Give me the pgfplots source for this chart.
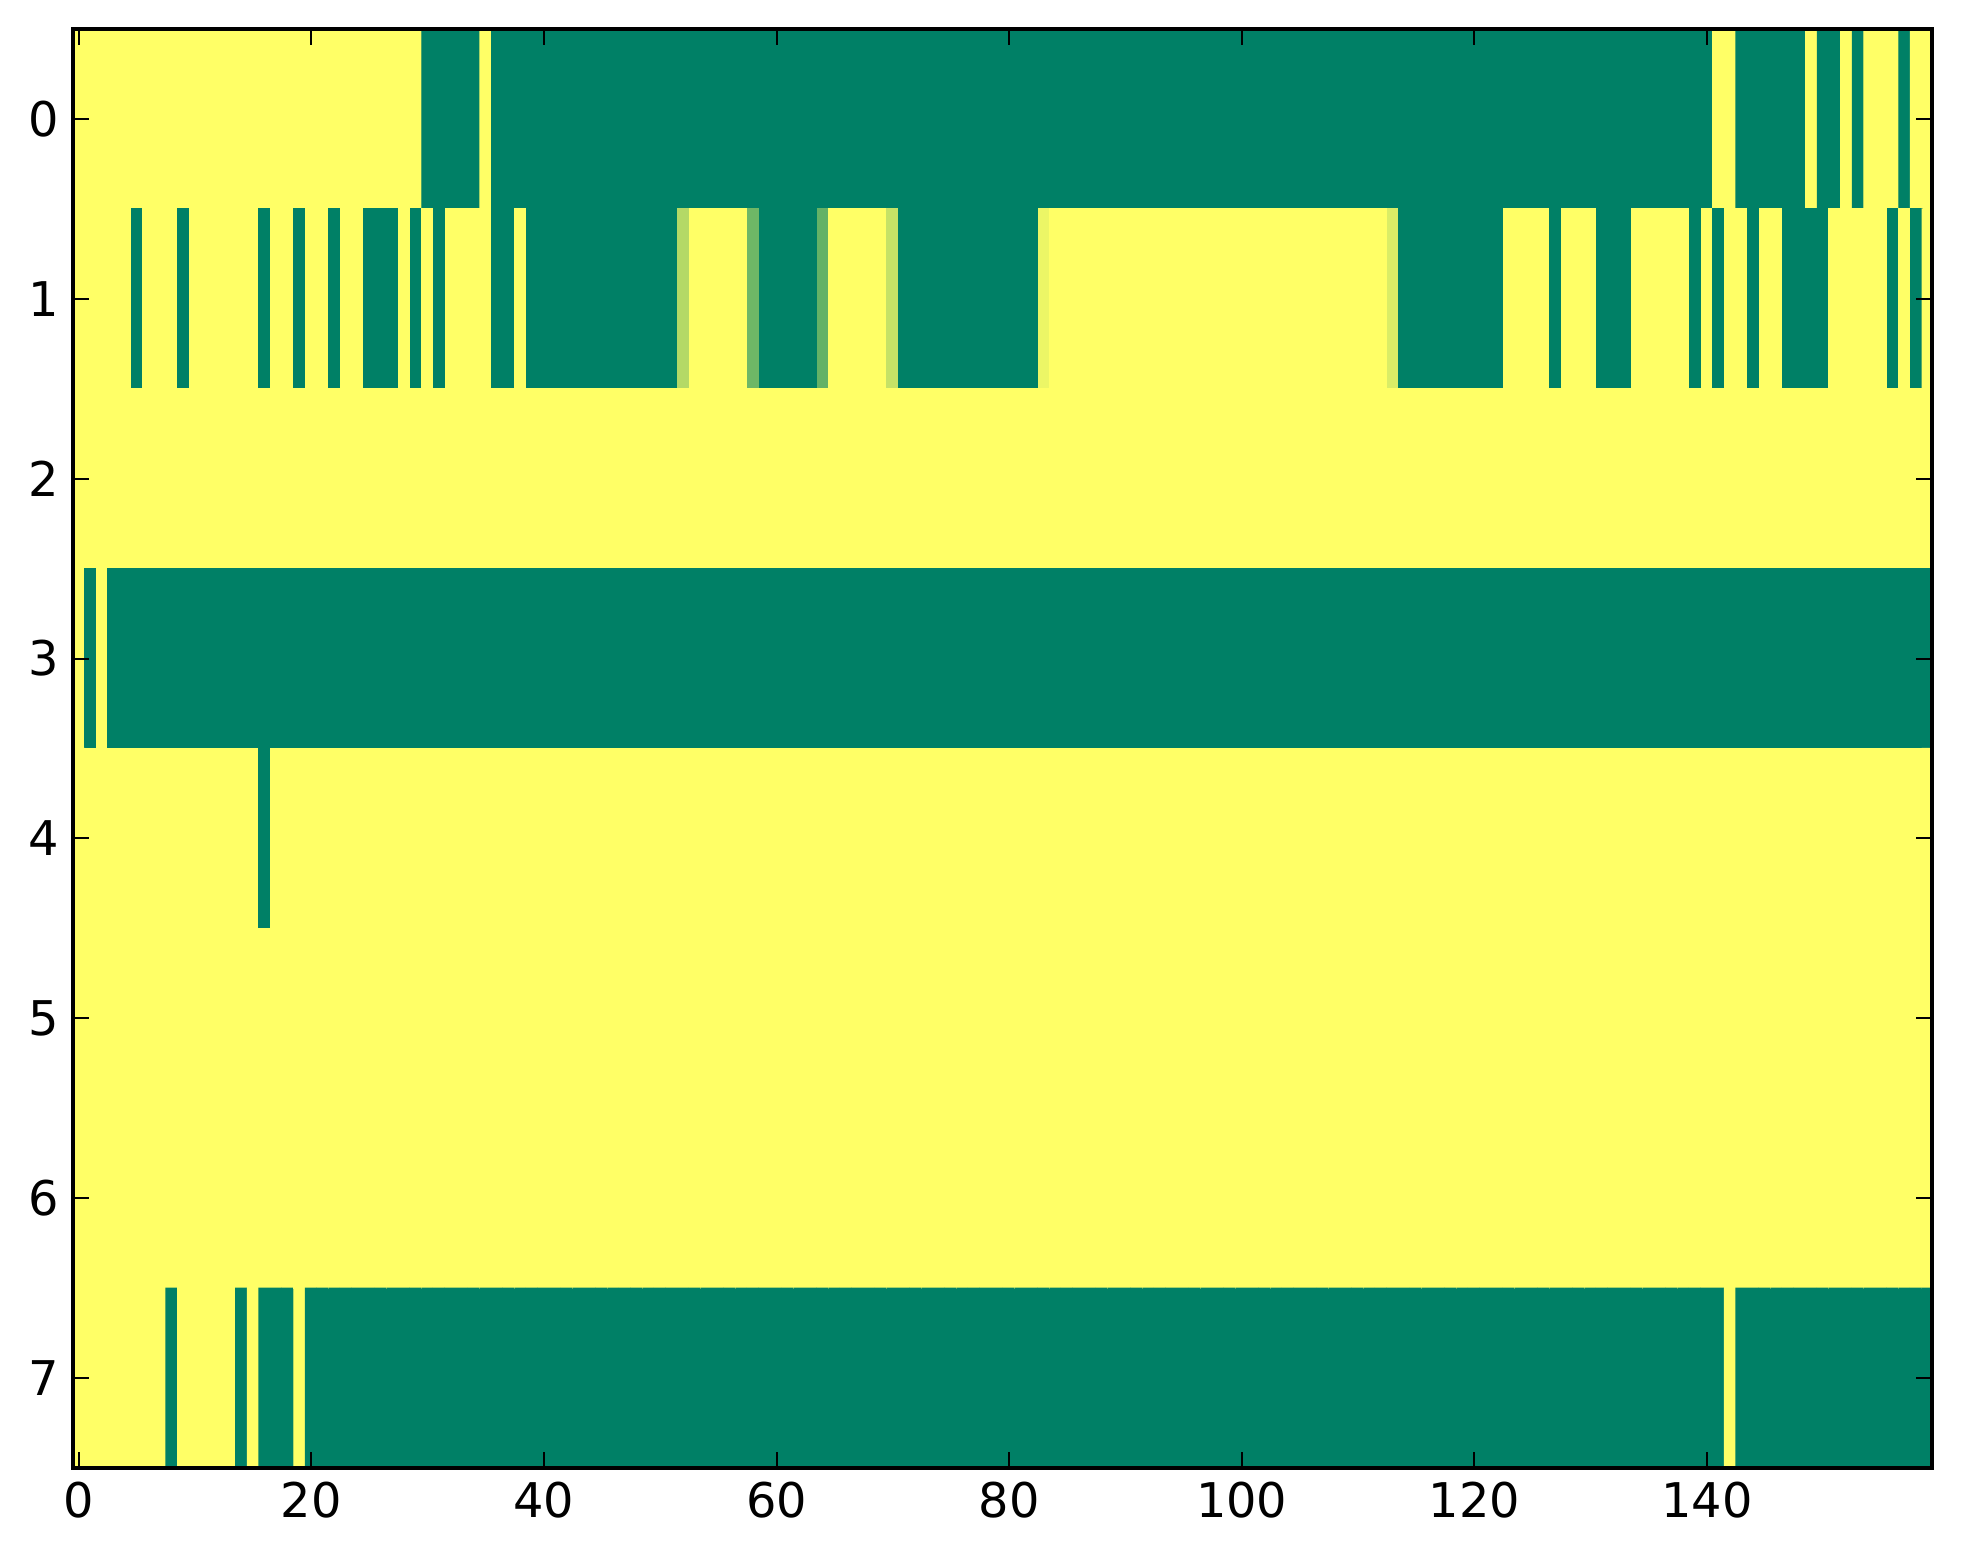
\documentclass[border=0pt]{standalone}
\usepackage{fontspec}
\setmainfont{DejaVu Sans}
\usepackage{pgfplots}
\pgfplotsset{compat=1.18}

% 8 rows x 160 columns, value 0 = green, 1 = yellow
\pgfplotstableread[row sep=\\]{
x y c\\
0 0 1\\ 1 0 1\\ 2 0 1\\ 3 0 1\\ 4 0 1\\ 5 0 1\\ 6 0 1\\ 7 0 1\\ 8 0 1\\ 9 0 1\\
10 0 1\\ 11 0 1\\ 12 0 1\\ 13 0 1\\ 14 0 1\\ 15 0 1\\ 16 0 1\\ 17 0 1\\ 18 0 1\\ 19 0 1\\
20 0 1\\ 21 0 1\\ 22 0 1\\ 23 0 1\\ 24 0 1\\ 25 0 1\\ 26 0 1\\ 27 0 1\\ 28 0 1\\ 29 0 1\\
30 0 0\\ 31 0 0\\ 32 0 0\\ 33 0 0\\ 34 0 0\\ 35 0 1\\ 36 0 0\\ 37 0 0\\ 38 0 0\\ 39 0 0\\
40 0 0\\ 41 0 0\\ 42 0 0\\ 43 0 0\\ 44 0 0\\ 45 0 0\\ 46 0 0\\ 47 0 0\\ 48 0 0\\ 49 0 0\\
50 0 0\\ 51 0 0\\ 52 0 0\\ 53 0 0\\ 54 0 0\\ 55 0 0\\ 56 0 0\\ 57 0 0\\ 58 0 0\\ 59 0 0\\
60 0 0\\ 61 0 0\\ 62 0 0\\ 63 0 0\\ 64 0 0\\ 65 0 0\\ 66 0 0\\ 67 0 0\\ 68 0 0\\ 69 0 0\\
70 0 0\\ 71 0 0\\ 72 0 0\\ 73 0 0\\ 74 0 0\\ 75 0 0\\ 76 0 0\\ 77 0 0\\ 78 0 0\\ 79 0 0\\
80 0 0\\ 81 0 0\\ 82 0 0\\ 83 0 0\\ 84 0 0\\ 85 0 0\\ 86 0 0\\ 87 0 0\\ 88 0 0\\ 89 0 0\\
90 0 0\\ 91 0 0\\ 92 0 0\\ 93 0 0\\ 94 0 0\\ 95 0 0\\ 96 0 0\\ 97 0 0\\ 98 0 0\\ 99 0 0\\
100 0 0\\ 101 0 0\\ 102 0 0\\ 103 0 0\\ 104 0 0\\ 105 0 0\\ 106 0 0\\ 107 0 0\\ 108 0 0\\ 109 0 0\\
110 0 0\\ 111 0 0\\ 112 0 0\\ 113 0 0\\ 114 0 0\\ 115 0 0\\ 116 0 0\\ 117 0 0\\ 118 0 0\\ 119 0 0\\
120 0 0\\ 121 0 0\\ 122 0 0\\ 123 0 0\\ 124 0 0\\ 125 0 0\\ 126 0 0\\ 127 0 0\\ 128 0 0\\ 129 0 0\\
130 0 0\\ 131 0 0\\ 132 0 0\\ 133 0 0\\ 134 0 0\\ 135 0 0\\ 136 0 0\\ 137 0 0\\ 138 0 0\\ 139 0 0\\
140 0 0\\ 141 0 1\\ 142 0 1\\ 143 0 0\\ 144 0 0\\ 145 0 0\\ 146 0 0\\ 147 0 0\\ 148 0 0\\ 149 0 1\\
150 0 0\\ 151 0 0\\ 152 0 1\\ 153 0 0\\ 154 0 1\\ 155 0 1\\ 156 0 1\\ 157 0 0\\ 158 0 1\\ 159 0 1\\
0 1 1\\ 1 1 1\\ 2 1 1\\ 3 1 1\\ 4 1 1\\ 5 1 0\\ 6 1 1\\ 7 1 1\\ 8 1 1\\ 9 1 0\\
10 1 1\\ 11 1 1\\ 12 1 1\\ 13 1 1\\ 14 1 1\\ 15 1 1\\ 16 1 0\\ 17 1 1\\ 18 1 1\\ 19 1 0\\
20 1 1\\ 21 1 1\\ 22 1 0\\ 23 1 1\\ 24 1 1\\ 25 1 0\\ 26 1 0\\ 27 1 0\\ 28 1 1\\ 29 1 0\\
30 1 1\\ 31 1 0\\ 32 1 1\\ 33 1 1\\ 34 1 1\\ 35 1 1\\ 36 1 0\\ 37 1 0\\ 38 1 1\\ 39 1 0\\
40 1 0\\ 41 1 0\\ 42 1 0\\ 43 1 0\\ 44 1 0\\ 45 1 0\\ 46 1 0\\ 47 1 0\\ 48 1 0\\ 49 1 0\\
50 1 0\\ 51 1 0\\ 52 1 0.70\\ 53 1 1\\ 54 1 1\\ 55 1 1\\ 56 1 1\\ 57 1 1\\ 58 1 0.43\\ 59 1 0\\
60 1 0\\ 61 1 0\\ 62 1 0\\ 63 1 0\\ 64 1 0.39\\ 65 1 1\\ 66 1 1\\ 67 1 1\\ 68 1 1\\ 69 1 1\\
70 1 0.77\\ 71 1 0\\ 72 1 0\\ 73 1 0\\ 74 1 0\\ 75 1 0\\ 76 1 0\\ 77 1 0\\ 78 1 0\\ 79 1 0\\
80 1 0\\ 81 1 0\\ 82 1 0\\ 83 1 0.92\\ 84 1 1\\ 85 1 1\\ 86 1 1\\ 87 1 1\\ 88 1 1\\ 89 1 1\\
90 1 1\\ 91 1 1\\ 92 1 1\\ 93 1 1\\ 94 1 1\\ 95 1 1\\ 96 1 1\\ 97 1 1\\ 98 1 1\\ 99 1 1\\
100 1 1\\ 101 1 1\\ 102 1 1\\ 103 1 1\\ 104 1 1\\ 105 1 1\\ 106 1 1\\ 107 1 1\\ 108 1 1\\ 109 1 1\\
110 1 1\\ 111 1 1\\ 112 1 1\\ 113 1 0.85\\ 114 1 0\\ 115 1 0\\ 116 1 0\\ 117 1 0\\ 118 1 0\\ 119 1 0\\
120 1 0\\ 121 1 0\\ 122 1 0\\ 123 1 1\\ 124 1 1\\ 125 1 1\\ 126 1 1\\ 127 1 0\\ 128 1 1\\ 129 1 1\\
130 1 1\\ 131 1 0\\ 132 1 0\\ 133 1 0\\ 134 1 1\\ 135 1 1\\ 136 1 1\\ 137 1 1\\ 138 1 1\\ 139 1 0\\
140 1 1\\ 141 1 0\\ 142 1 1\\ 143 1 1\\ 144 1 0\\ 145 1 1\\ 146 1 1\\ 147 1 0\\ 148 1 0\\ 149 1 0\\
150 1 0\\ 151 1 1\\ 152 1 1\\ 153 1 1\\ 154 1 1\\ 155 1 1\\ 156 1 0\\ 157 1 1\\ 158 1 0\\ 159 1 1\\
0 2 1\\ 1 2 1\\ 2 2 1\\ 3 2 1\\ 4 2 1\\ 5 2 1\\ 6 2 1\\ 7 2 1\\ 8 2 1\\ 9 2 1\\
10 2 1\\ 11 2 1\\ 12 2 1\\ 13 2 1\\ 14 2 1\\ 15 2 1\\ 16 2 1\\ 17 2 1\\ 18 2 1\\ 19 2 1\\
20 2 1\\ 21 2 1\\ 22 2 1\\ 23 2 1\\ 24 2 1\\ 25 2 1\\ 26 2 1\\ 27 2 1\\ 28 2 1\\ 29 2 1\\
30 2 1\\ 31 2 1\\ 32 2 1\\ 33 2 1\\ 34 2 1\\ 35 2 1\\ 36 2 1\\ 37 2 1\\ 38 2 1\\ 39 2 1\\
40 2 1\\ 41 2 1\\ 42 2 1\\ 43 2 1\\ 44 2 1\\ 45 2 1\\ 46 2 1\\ 47 2 1\\ 48 2 1\\ 49 2 1\\
50 2 1\\ 51 2 1\\ 52 2 1\\ 53 2 1\\ 54 2 1\\ 55 2 1\\ 56 2 1\\ 57 2 1\\ 58 2 1\\ 59 2 1\\
60 2 1\\ 61 2 1\\ 62 2 1\\ 63 2 1\\ 64 2 1\\ 65 2 1\\ 66 2 1\\ 67 2 1\\ 68 2 1\\ 69 2 1\\
70 2 1\\ 71 2 1\\ 72 2 1\\ 73 2 1\\ 74 2 1\\ 75 2 1\\ 76 2 1\\ 77 2 1\\ 78 2 1\\ 79 2 1\\
80 2 1\\ 81 2 1\\ 82 2 1\\ 83 2 1\\ 84 2 1\\ 85 2 1\\ 86 2 1\\ 87 2 1\\ 88 2 1\\ 89 2 1\\
90 2 1\\ 91 2 1\\ 92 2 1\\ 93 2 1\\ 94 2 1\\ 95 2 1\\ 96 2 1\\ 97 2 1\\ 98 2 1\\ 99 2 1\\
100 2 1\\ 101 2 1\\ 102 2 1\\ 103 2 1\\ 104 2 1\\ 105 2 1\\ 106 2 1\\ 107 2 1\\ 108 2 1\\ 109 2 1\\
110 2 1\\ 111 2 1\\ 112 2 1\\ 113 2 1\\ 114 2 1\\ 115 2 1\\ 116 2 1\\ 117 2 1\\ 118 2 1\\ 119 2 1\\
120 2 1\\ 121 2 1\\ 122 2 1\\ 123 2 1\\ 124 2 1\\ 125 2 1\\ 126 2 1\\ 127 2 1\\ 128 2 1\\ 129 2 1\\
130 2 1\\ 131 2 1\\ 132 2 1\\ 133 2 1\\ 134 2 1\\ 135 2 1\\ 136 2 1\\ 137 2 1\\ 138 2 1\\ 139 2 1\\
140 2 1\\ 141 2 1\\ 142 2 1\\ 143 2 1\\ 144 2 1\\ 145 2 1\\ 146 2 1\\ 147 2 1\\ 148 2 1\\ 149 2 1\\
150 2 1\\ 151 2 1\\ 152 2 1\\ 153 2 1\\ 154 2 1\\ 155 2 1\\ 156 2 1\\ 157 2 1\\ 158 2 1\\ 159 2 1\\
0 3 1\\ 1 3 0\\ 2 3 1\\ 3 3 0\\ 4 3 0\\ 5 3 0\\ 6 3 0\\ 7 3 0\\ 8 3 0\\ 9 3 0\\
10 3 0\\ 11 3 0\\ 12 3 0\\ 13 3 0\\ 14 3 0\\ 15 3 0\\ 16 3 0\\ 17 3 0\\ 18 3 0\\ 19 3 0\\
20 3 0\\ 21 3 0\\ 22 3 0\\ 23 3 0\\ 24 3 0\\ 25 3 0\\ 26 3 0\\ 27 3 0\\ 28 3 0\\ 29 3 0\\
30 3 0\\ 31 3 0\\ 32 3 0\\ 33 3 0\\ 34 3 0\\ 35 3 0\\ 36 3 0\\ 37 3 0\\ 38 3 0\\ 39 3 0\\
40 3 0\\ 41 3 0\\ 42 3 0\\ 43 3 0\\ 44 3 0\\ 45 3 0\\ 46 3 0\\ 47 3 0\\ 48 3 0\\ 49 3 0\\
50 3 0\\ 51 3 0\\ 52 3 0\\ 53 3 0\\ 54 3 0\\ 55 3 0\\ 56 3 0\\ 57 3 0\\ 58 3 0\\ 59 3 0\\
60 3 0\\ 61 3 0\\ 62 3 0\\ 63 3 0\\ 64 3 0\\ 65 3 0\\ 66 3 0\\ 67 3 0\\ 68 3 0\\ 69 3 0\\
70 3 0\\ 71 3 0\\ 72 3 0\\ 73 3 0\\ 74 3 0\\ 75 3 0\\ 76 3 0\\ 77 3 0\\ 78 3 0\\ 79 3 0\\
80 3 0\\ 81 3 0\\ 82 3 0\\ 83 3 0\\ 84 3 0\\ 85 3 0\\ 86 3 0\\ 87 3 0\\ 88 3 0\\ 89 3 0\\
90 3 0\\ 91 3 0\\ 92 3 0\\ 93 3 0\\ 94 3 0\\ 95 3 0\\ 96 3 0\\ 97 3 0\\ 98 3 0\\ 99 3 0\\
100 3 0\\ 101 3 0\\ 102 3 0\\ 103 3 0\\ 104 3 0\\ 105 3 0\\ 106 3 0\\ 107 3 0\\ 108 3 0\\ 109 3 0\\
110 3 0\\ 111 3 0\\ 112 3 0\\ 113 3 0\\ 114 3 0\\ 115 3 0\\ 116 3 0\\ 117 3 0\\ 118 3 0\\ 119 3 0\\
120 3 0\\ 121 3 0\\ 122 3 0\\ 123 3 0\\ 124 3 0\\ 125 3 0\\ 126 3 0\\ 127 3 0\\ 128 3 0\\ 129 3 0\\
130 3 0\\ 131 3 0\\ 132 3 0\\ 133 3 0\\ 134 3 0\\ 135 3 0\\ 136 3 0\\ 137 3 0\\ 138 3 0\\ 139 3 0\\
140 3 0\\ 141 3 0\\ 142 3 0\\ 143 3 0\\ 144 3 0\\ 145 3 0\\ 146 3 0\\ 147 3 0\\ 148 3 0\\ 149 3 0\\
150 3 0\\ 151 3 0\\ 152 3 0\\ 153 3 0\\ 154 3 0\\ 155 3 0\\ 156 3 0\\ 157 3 0\\ 158 3 0\\ 159 3 0\\
0 4 1\\ 1 4 1\\ 2 4 1\\ 3 4 1\\ 4 4 1\\ 5 4 1\\ 6 4 1\\ 7 4 1\\ 8 4 1\\ 9 4 1\\
10 4 1\\ 11 4 1\\ 12 4 1\\ 13 4 1\\ 14 4 1\\ 15 4 1\\ 16 4 0\\ 17 4 1\\ 18 4 1\\ 19 4 1\\
20 4 1\\ 21 4 1\\ 22 4 1\\ 23 4 1\\ 24 4 1\\ 25 4 1\\ 26 4 1\\ 27 4 1\\ 28 4 1\\ 29 4 1\\
30 4 1\\ 31 4 1\\ 32 4 1\\ 33 4 1\\ 34 4 1\\ 35 4 1\\ 36 4 1\\ 37 4 1\\ 38 4 1\\ 39 4 1\\
40 4 1\\ 41 4 1\\ 42 4 1\\ 43 4 1\\ 44 4 1\\ 45 4 1\\ 46 4 1\\ 47 4 1\\ 48 4 1\\ 49 4 1\\
50 4 1\\ 51 4 1\\ 52 4 1\\ 53 4 1\\ 54 4 1\\ 55 4 1\\ 56 4 1\\ 57 4 1\\ 58 4 1\\ 59 4 1\\
60 4 1\\ 61 4 1\\ 62 4 1\\ 63 4 1\\ 64 4 1\\ 65 4 1\\ 66 4 1\\ 67 4 1\\ 68 4 1\\ 69 4 1\\
70 4 1\\ 71 4 1\\ 72 4 1\\ 73 4 1\\ 74 4 1\\ 75 4 1\\ 76 4 1\\ 77 4 1\\ 78 4 1\\ 79 4 1\\
80 4 1\\ 81 4 1\\ 82 4 1\\ 83 4 1\\ 84 4 1\\ 85 4 1\\ 86 4 1\\ 87 4 1\\ 88 4 1\\ 89 4 1\\
90 4 1\\ 91 4 1\\ 92 4 1\\ 93 4 1\\ 94 4 1\\ 95 4 1\\ 96 4 1\\ 97 4 1\\ 98 4 1\\ 99 4 1\\
100 4 1\\ 101 4 1\\ 102 4 1\\ 103 4 1\\ 104 4 1\\ 105 4 1\\ 106 4 1\\ 107 4 1\\ 108 4 1\\ 109 4 1\\
110 4 1\\ 111 4 1\\ 112 4 1\\ 113 4 1\\ 114 4 1\\ 115 4 1\\ 116 4 1\\ 117 4 1\\ 118 4 1\\ 119 4 1\\
120 4 1\\ 121 4 1\\ 122 4 1\\ 123 4 1\\ 124 4 1\\ 125 4 1\\ 126 4 1\\ 127 4 1\\ 128 4 1\\ 129 4 1\\
130 4 1\\ 131 4 1\\ 132 4 1\\ 133 4 1\\ 134 4 1\\ 135 4 1\\ 136 4 1\\ 137 4 1\\ 138 4 1\\ 139 4 1\\
140 4 1\\ 141 4 1\\ 142 4 1\\ 143 4 1\\ 144 4 1\\ 145 4 1\\ 146 4 1\\ 147 4 1\\ 148 4 1\\ 149 4 1\\
150 4 1\\ 151 4 1\\ 152 4 1\\ 153 4 1\\ 154 4 1\\ 155 4 1\\ 156 4 1\\ 157 4 1\\ 158 4 1\\ 159 4 1\\
0 5 1\\ 1 5 1\\ 2 5 1\\ 3 5 1\\ 4 5 1\\ 5 5 1\\ 6 5 1\\ 7 5 1\\ 8 5 1\\ 9 5 1\\
10 5 1\\ 11 5 1\\ 12 5 1\\ 13 5 1\\ 14 5 1\\ 15 5 1\\ 16 5 1\\ 17 5 1\\ 18 5 1\\ 19 5 1\\
20 5 1\\ 21 5 1\\ 22 5 1\\ 23 5 1\\ 24 5 1\\ 25 5 1\\ 26 5 1\\ 27 5 1\\ 28 5 1\\ 29 5 1\\
30 5 1\\ 31 5 1\\ 32 5 1\\ 33 5 1\\ 34 5 1\\ 35 5 1\\ 36 5 1\\ 37 5 1\\ 38 5 1\\ 39 5 1\\
40 5 1\\ 41 5 1\\ 42 5 1\\ 43 5 1\\ 44 5 1\\ 45 5 1\\ 46 5 1\\ 47 5 1\\ 48 5 1\\ 49 5 1\\
50 5 1\\ 51 5 1\\ 52 5 1\\ 53 5 1\\ 54 5 1\\ 55 5 1\\ 56 5 1\\ 57 5 1\\ 58 5 1\\ 59 5 1\\
60 5 1\\ 61 5 1\\ 62 5 1\\ 63 5 1\\ 64 5 1\\ 65 5 1\\ 66 5 1\\ 67 5 1\\ 68 5 1\\ 69 5 1\\
70 5 1\\ 71 5 1\\ 72 5 1\\ 73 5 1\\ 74 5 1\\ 75 5 1\\ 76 5 1\\ 77 5 1\\ 78 5 1\\ 79 5 1\\
80 5 1\\ 81 5 1\\ 82 5 1\\ 83 5 1\\ 84 5 1\\ 85 5 1\\ 86 5 1\\ 87 5 1\\ 88 5 1\\ 89 5 1\\
90 5 1\\ 91 5 1\\ 92 5 1\\ 93 5 1\\ 94 5 1\\ 95 5 1\\ 96 5 1\\ 97 5 1\\ 98 5 1\\ 99 5 1\\
100 5 1\\ 101 5 1\\ 102 5 1\\ 103 5 1\\ 104 5 1\\ 105 5 1\\ 106 5 1\\ 107 5 1\\ 108 5 1\\ 109 5 1\\
110 5 1\\ 111 5 1\\ 112 5 1\\ 113 5 1\\ 114 5 1\\ 115 5 1\\ 116 5 1\\ 117 5 1\\ 118 5 1\\ 119 5 1\\
120 5 1\\ 121 5 1\\ 122 5 1\\ 123 5 1\\ 124 5 1\\ 125 5 1\\ 126 5 1\\ 127 5 1\\ 128 5 1\\ 129 5 1\\
130 5 1\\ 131 5 1\\ 132 5 1\\ 133 5 1\\ 134 5 1\\ 135 5 1\\ 136 5 1\\ 137 5 1\\ 138 5 1\\ 139 5 1\\
140 5 1\\ 141 5 1\\ 142 5 1\\ 143 5 1\\ 144 5 1\\ 145 5 1\\ 146 5 1\\ 147 5 1\\ 148 5 1\\ 149 5 1\\
150 5 1\\ 151 5 1\\ 152 5 1\\ 153 5 1\\ 154 5 1\\ 155 5 1\\ 156 5 1\\ 157 5 1\\ 158 5 1\\ 159 5 1\\
0 6 1\\ 1 6 1\\ 2 6 1\\ 3 6 1\\ 4 6 1\\ 5 6 1\\ 6 6 1\\ 7 6 1\\ 8 6 1\\ 9 6 1\\
10 6 1\\ 11 6 1\\ 12 6 1\\ 13 6 1\\ 14 6 1\\ 15 6 1\\ 16 6 1\\ 17 6 1\\ 18 6 1\\ 19 6 1\\
20 6 1\\ 21 6 1\\ 22 6 1\\ 23 6 1\\ 24 6 1\\ 25 6 1\\ 26 6 1\\ 27 6 1\\ 28 6 1\\ 29 6 1\\
30 6 1\\ 31 6 1\\ 32 6 1\\ 33 6 1\\ 34 6 1\\ 35 6 1\\ 36 6 1\\ 37 6 1\\ 38 6 1\\ 39 6 1\\
40 6 1\\ 41 6 1\\ 42 6 1\\ 43 6 1\\ 44 6 1\\ 45 6 1\\ 46 6 1\\ 47 6 1\\ 48 6 1\\ 49 6 1\\
50 6 1\\ 51 6 1\\ 52 6 1\\ 53 6 1\\ 54 6 1\\ 55 6 1\\ 56 6 1\\ 57 6 1\\ 58 6 1\\ 59 6 1\\
60 6 1\\ 61 6 1\\ 62 6 1\\ 63 6 1\\ 64 6 1\\ 65 6 1\\ 66 6 1\\ 67 6 1\\ 68 6 1\\ 69 6 1\\
70 6 1\\ 71 6 1\\ 72 6 1\\ 73 6 1\\ 74 6 1\\ 75 6 1\\ 76 6 1\\ 77 6 1\\ 78 6 1\\ 79 6 1\\
80 6 1\\ 81 6 1\\ 82 6 1\\ 83 6 1\\ 84 6 1\\ 85 6 1\\ 86 6 1\\ 87 6 1\\ 88 6 1\\ 89 6 1\\
90 6 1\\ 91 6 1\\ 92 6 1\\ 93 6 1\\ 94 6 1\\ 95 6 1\\ 96 6 1\\ 97 6 1\\ 98 6 1\\ 99 6 1\\
100 6 1\\ 101 6 1\\ 102 6 1\\ 103 6 1\\ 104 6 1\\ 105 6 1\\ 106 6 1\\ 107 6 1\\ 108 6 1\\ 109 6 1\\
110 6 1\\ 111 6 1\\ 112 6 1\\ 113 6 1\\ 114 6 1\\ 115 6 1\\ 116 6 1\\ 117 6 1\\ 118 6 1\\ 119 6 1\\
120 6 1\\ 121 6 1\\ 122 6 1\\ 123 6 1\\ 124 6 1\\ 125 6 1\\ 126 6 1\\ 127 6 1\\ 128 6 1\\ 129 6 1\\
130 6 1\\ 131 6 1\\ 132 6 1\\ 133 6 1\\ 134 6 1\\ 135 6 1\\ 136 6 1\\ 137 6 1\\ 138 6 1\\ 139 6 1\\
140 6 1\\ 141 6 1\\ 142 6 1\\ 143 6 1\\ 144 6 1\\ 145 6 1\\ 146 6 1\\ 147 6 1\\ 148 6 1\\ 149 6 1\\
150 6 1\\ 151 6 1\\ 152 6 1\\ 153 6 1\\ 154 6 1\\ 155 6 1\\ 156 6 1\\ 157 6 1\\ 158 6 1\\ 159 6 1\\
0 7 1\\ 1 7 1\\ 2 7 1\\ 3 7 1\\ 4 7 1\\ 5 7 1\\ 6 7 1\\ 7 7 1\\ 8 7 0\\ 9 7 1\\
10 7 1\\ 11 7 1\\ 12 7 1\\ 13 7 1\\ 14 7 0\\ 15 7 1\\ 16 7 0\\ 17 7 0\\ 18 7 0\\ 19 7 1\\
20 7 0\\ 21 7 0\\ 22 7 0\\ 23 7 0\\ 24 7 0\\ 25 7 0\\ 26 7 0\\ 27 7 0\\ 28 7 0\\ 29 7 0\\
30 7 0\\ 31 7 0\\ 32 7 0\\ 33 7 0\\ 34 7 0\\ 35 7 0\\ 36 7 0\\ 37 7 0\\ 38 7 0\\ 39 7 0\\
40 7 0\\ 41 7 0\\ 42 7 0\\ 43 7 0\\ 44 7 0\\ 45 7 0\\ 46 7 0\\ 47 7 0\\ 48 7 0\\ 49 7 0\\
50 7 0\\ 51 7 0\\ 52 7 0\\ 53 7 0\\ 54 7 0\\ 55 7 0\\ 56 7 0\\ 57 7 0\\ 58 7 0\\ 59 7 0\\
60 7 0\\ 61 7 0\\ 62 7 0\\ 63 7 0\\ 64 7 0\\ 65 7 0\\ 66 7 0\\ 67 7 0\\ 68 7 0\\ 69 7 0\\
70 7 0\\ 71 7 0\\ 72 7 0\\ 73 7 0\\ 74 7 0\\ 75 7 0\\ 76 7 0\\ 77 7 0\\ 78 7 0\\ 79 7 0\\
80 7 0\\ 81 7 0\\ 82 7 0\\ 83 7 0\\ 84 7 0\\ 85 7 0\\ 86 7 0\\ 87 7 0\\ 88 7 0\\ 89 7 0\\
90 7 0\\ 91 7 0\\ 92 7 0\\ 93 7 0\\ 94 7 0\\ 95 7 0\\ 96 7 0\\ 97 7 0\\ 98 7 0\\ 99 7 0\\
100 7 0\\ 101 7 0\\ 102 7 0\\ 103 7 0\\ 104 7 0\\ 105 7 0\\ 106 7 0\\ 107 7 0\\ 108 7 0\\ 109 7 0\\
110 7 0\\ 111 7 0\\ 112 7 0\\ 113 7 0\\ 114 7 0\\ 115 7 0\\ 116 7 0\\ 117 7 0\\ 118 7 0\\ 119 7 0\\
120 7 0\\ 121 7 0\\ 122 7 0\\ 123 7 0\\ 124 7 0\\ 125 7 0\\ 126 7 0\\ 127 7 0\\ 128 7 0\\ 129 7 0\\
130 7 0\\ 131 7 0\\ 132 7 0\\ 133 7 0\\ 134 7 0\\ 135 7 0\\ 136 7 0\\ 137 7 0\\ 138 7 0\\ 139 7 0\\
140 7 0\\ 141 7 0\\ 142 7 1\\ 143 7 0\\ 144 7 0\\ 145 7 0\\ 146 7 0\\ 147 7 0\\ 148 7 0\\ 149 7 0\\
150 7 0\\ 151 7 0\\ 152 7 0\\ 153 7 0\\ 154 7 0\\ 155 7 0\\ 156 7 0\\ 157 7 0\\ 158 7 0\\ 159 7 0\\
}\cells

\begin{document}
\begin{tikzpicture}
% fix the page to the reference's 1963 x 1564 px (4 px per bp)
\path[use as bounding box] (-18.25bp,-24bp) rectangle (472.5bp,367bp);
\begin{axis}[
    scale only axis,
    width=464.75bp,
    height=359.75bp,
    xmin=-0.5, xmax=159.35,
    ymin=-0.5, ymax=7.5,
    y dir=reverse,
    xtick={0,20,...,140},
    ytick={0,1,...,7},
    tick align=inside,
    major tick length=4bp,
    minor tick num=0,
    major tick style={black, line width=0.5bp},
    axis line style={black, line width=1bp},
    ticklabel style={font=\fontsize{12}{14}\selectfont},
    /pgf/number format/assume math mode=true,
    colormap={summer}{rgb=(0,0.5,0.4) rgb=(1,1,0.4)},
    point meta min=0, point meta max=1,
    axis on top,
]
\addplot[matrix plot, draw=mapped color, line width=0.3bp,
    mesh/cols=160, point meta=explicit]
    table[x=x, y=y, meta=c] {\cells};
\end{axis}
\end{tikzpicture}
\end{document}
